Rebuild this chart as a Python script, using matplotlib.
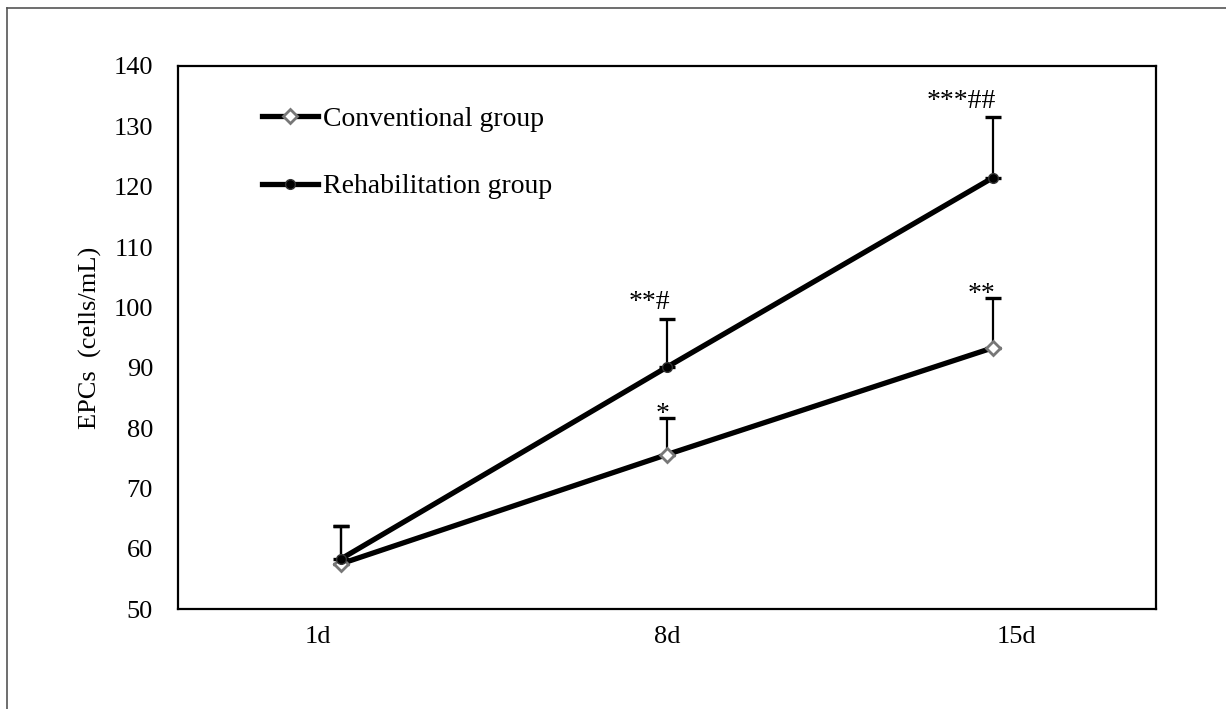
import matplotlib.pyplot as plt
from matplotlib.lines import Line2D

plt.rcParams['font.family'] = ['Liberation Serif', 'DejaVu Serif']

# data
days = [1, 8, 15]
day_labels = ["1d", "8d", "15d"]
conventional = [57.5, 75.6, 93.3]
conventional_err = [6.3, 6.1, 8.2]
rehab = [58.3, 90.1, 121.5]
rehab_err = [5.5, 8.0, 10.0]
conventional_sig = ["", "*", "**"]
rehab_sig = ["", "**#", "***##"]

fig = plt.figure(figsize=(12.26, 7.09), dpi=100)
ax = fig.add_axes([178 / 1226, 1 - 609 / 709, 978 / 1226, 543 / 709])

# error bars (upper side only)
ax.errorbar(days, conventional, yerr=[[0] * 3, conventional_err], fmt='none',
            ecolor='black', elinewidth=1.6, capsize=6, capthick=2.4, zorder=2)
ax.errorbar(days, rehab, yerr=[[0] * 3, rehab_err], fmt='none',
            ecolor='black', elinewidth=1.6, capsize=6, capthick=2.4, zorder=2)

ax.plot(days, conventional, color='black', lw=3.8, marker='D', ms=7,
        mfc='white', mec='#777777', mew=2, label="Conventional group", zorder=3)
ax.plot(days, rehab, color='black', lw=3.8, marker='o', ms=7,
        mfc='black', mec='#333333', label="Rehabilitation group", zorder=3)

# significance marks
for d, v, e, s in zip(days, conventional, conventional_err, conventional_sig):
    if s:
        ax.annotate(s, (d, v + e), xytext=(1.5, -2), textcoords='offset points',
                    ha='right', va='baseline', fontsize=20)
for d, v, e, s in zip(days, rehab, rehab_err, rehab_sig):
    if s:
        ax.annotate(s, (d, v + e), xytext=(2, 7), textcoords='offset points',
                    ha='right', va='baseline', fontsize=20)

ax.set_xlim(-2.5, 18.5)
ax.set_ylim(50, 140)
ax.set_yticks(range(50, 141, 10))
ax.set_xticks([0.5, 8, 15.5])
ax.set_xticklabels(day_labels)
ax.tick_params(axis='both', length=0, labelsize=19)
ax.tick_params(axis='y', pad=18)
ax.tick_params(axis='x', pad=12)
for sp in ax.spines.values():
    sp.set_linewidth(1.6)
    sp.set_color('black')

ax.set_ylabel("EPCs  (cells/mL)", fontsize=19, labelpad=8)

ax.legend(loc='upper left', bbox_to_anchor=(0.086, 0.925), frameon=False,
          fontsize=20, handlelength=2.0, handletextpad=0.18, labelspacing=1.5,
          borderpad=0, borderaxespad=0)

# outer frame (left and top edges visible)
fig.add_artist(Line2D([7 / 1226, 7 / 1226], [0, 1 - 8 / 709], color='#555555', lw=1.2))
fig.add_artist(Line2D([7 / 1226, 1], [1 - 8 / 709, 1 - 8 / 709], color='#555555', lw=1.2))

fig.savefig("out.png", dpi=100)
